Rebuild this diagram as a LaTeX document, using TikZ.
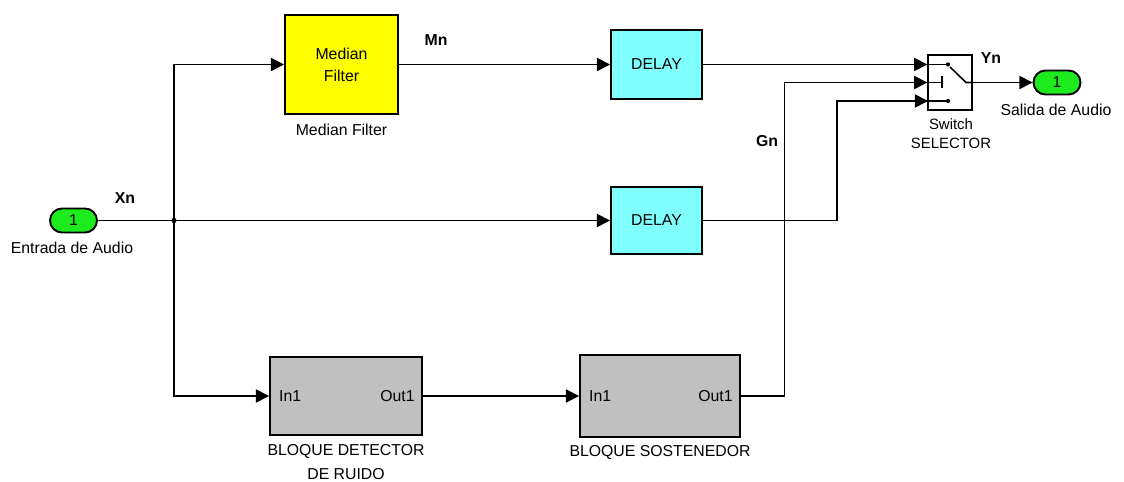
\documentclass[tikz,border=0pt]{standalone}
\usepackage{fontspec}
\setmainfont{Liberation Sans}
\usetikzlibrary{arrows.meta,calc}
\definecolor{portgreen}{RGB}{30,235,30}
\definecolor{mfyellow}{RGB}{255,255,0}
\definecolor{dlcyan}{RGB}{128,255,255}
\definecolor{subgray}{RGB}{192,192,192}

\begin{document}
\begin{tikzpicture}[x=0.02cm,y=-0.02cm,line width=0.9pt,
  every node/.style={font=\fontsize{9}{10}\selectfont},
  blk/.style={draw,line width=1.1pt,inner sep=0pt,align=center},
  port/.style={draw,line width=1.1pt,fill=portgreen,rounded corners=0.24cm,
    minimum width=0.94cm,minimum height=0.48cm,inner sep=0pt},
  sig/.style={-{Triangle[length=7.5pt,width=7.5pt]}},
  lbl/.style={font=\fontsize{9}{10}\selectfont\bfseries}]
  \useasboundingbox (0,0) rectangle (1124,482);
  % blocks
  \node[port] (in) at (73.5,220.5) {1};
  \node[port] (out) at (1057,82.5) {1};
  \node[blk,fill=mfyellow,minimum width=2.26cm,minimum height=1.98cm,
    font=\fontsize{9}{12.5}\selectfont] (mf) at (341.5,64.5) {Median\\Filter};
  \node[blk,fill=dlcyan,minimum width=1.82cm,minimum height=1.37cm] (dl1) at (656.5,64.5) {DELAY};
  \node[blk,fill=dlcyan,minimum width=1.82cm,minimum height=1.34cm] (dl2) at (656.5,220.5) {DELAY};
  \node[blk,minimum width=0.87cm,minimum height=1.1cm] (sw) at (950,82.5) {};
  \node[blk,fill=subgray,minimum width=3.04cm,minimum height=1.56cm] (det) at (346,396) {};
  \node[blk,fill=subgray,minimum width=3.2cm,minimum height=1.64cm] (sost) at (660,396) {};
  \node[anchor=west,xshift=2pt] at (det.west) {In1};
  \node[anchor=east,xshift=-1pt] at (det.east) {Out1};
  \node[anchor=west,xshift=2pt] at (sost.west) {In1};
  \node[anchor=east,xshift=-1pt] at (sost.east) {Out1};
  % labels
  \node at (72,248) {Entrada de Audio};
  \node at (1056,110) {Salida de Audio};
  \node at (341.5,130) {Median Filter};
  \node[align=center,font=\fontsize{9}{14}\selectfont] at (346,462) {BLOQUE DETECTOR\\DE RUIDO};
  \node at (660,452) {BLOQUE SOSTENEDOR};
  \node[align=center,font=\fontsize{8.5}{11}\selectfont] at (951,134) {Switch\\SELECTOR};
  \node[lbl] at (125,198) {Xn};
  \node[lbl] at (436,40) {Mn};
  \node[lbl] at (767,141) {Gn};
  \node[lbl] at (991,58) {Yn};
  % switch inputs
  \coordinate (j) at (174,220.5);
  \coordinate (sw1) at (sw.west |- dl1.east);
  \coordinate (sw2) at (sw.west);
  \coordinate (sw3) at (928,101);
  % signals
  \draw (in.east) -- (j);
  \fill (j) circle (1.5pt);
  \draw[sig] (j) -- (dl2.west);
  \draw[sig] (j) |- (mf.west);
  \draw[sig] (j) |- (det.west);
  \draw[sig] (mf.east) -- (dl1.west);
  \draw[sig] (dl1.east) -- (sw1);
  \draw[sig] (det.east) -- (sost.west);
  \draw[sig] (sost.east) -| ($(sw2)+(-143,0)$) -- (sw2);
  \draw[sig] (dl2.east) -| ($(sw3)+(-91,0)$) -- (sw3);
  \draw[sig] (sw.east) -- (out.west);
  % switch icon
  \draw (sw1) -- ++(20,0) (sw2) -- ++(14,0) (sw3) -- ++(20,0);
  \draw (942,76) -- (942,88);
  \draw (950,67) -- (966,82.5) -- (sw.east);
  \fill (948,64.5) circle (1.2pt) (948,101) circle (1.2pt);
\end{tikzpicture}
\end{document}
